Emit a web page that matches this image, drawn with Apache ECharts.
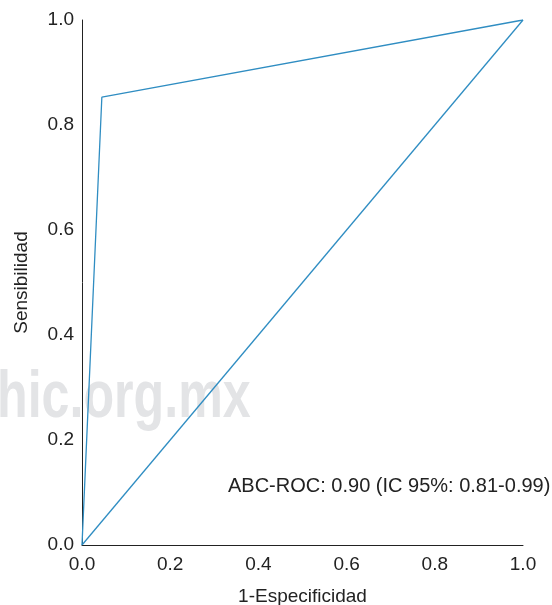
<!DOCTYPE html>
<html><head><meta charset="utf-8">
<script src="https://cdn.jsdelivr.net/npm/echarts@6/dist/echarts.min.js"></script>
<style>html,body{margin:0;padding:0;background:#fff}#c{width:552px;height:605px}</style>
</head><body><div id="c"></div>
<script>
const rocX = [0, 0.045, 1];
const rocY = [0, 0.853, 1];
const refX = [0, 1];
const refY = [0, 1];
const tickLabels = ['0.0','0.2','0.4','0.6','0.8','1.0'];
const annotation = 'ABC-ROC: 0.90 (IC 95%: 0.81-0.99)';
const watermark = 'hic.org.mx';

const chart = echarts.init(document.getElementById('c'));
const font = '"Liberation Sans", Arial, Helvetica, sans-serif';
const lineColor = '#2f8dc2';
chart.setOption({
  animation: false,
  grid: {left: 82, top: 20, right: 29, bottom: 60, containLabel: false, outerBoundsMode: 'none'},
  graphic: [
    {type: 'text', x: -3, y: 366, scaleX: 0.76, z: -10, silent: true,
     style: {text: watermark, font: 'bold 66px ' + font, fill: '#e3e4e6'}},
    {type: 'text', left: 228, top: 476, z: 10,
     style: {text: annotation, font: '20px ' + font, fill: '#222'}}
  ],
  xAxis: {
    type: 'value', min: 0, max: 1, interval: 0.2,
    name: '1-Especificidad', nameLocation: 'middle', nameGap: 42,
    nameTextStyle: {fontFamily: font, fontSize: 19, color: '#222'},
    axisLine: {show: true, lineStyle: {color: '#222', width: 1}},
    axisTick: {show: false}, splitLine: {show: false},
    axisLabel: {fontFamily: font, fontSize: 19, color: '#222', margin: 10,
      formatter: v => tickLabels[Math.round(v*5)]}
  },
  yAxis: {
    type: 'value', min: 0, max: 1, interval: 0.2,
    name: 'Sensibilidad', nameLocation: 'middle', nameGap: 51,
    nameTextStyle: {fontFamily: font, fontSize: 19, color: '#222'},
    axisLine: {show: true, lineStyle: {color: '#222', width: 1}},
    axisTick: {show: false}, splitLine: {show: false},
    axisLabel: {fontFamily: font, fontSize: 19, color: '#222', margin: 8,
      formatter: v => tickLabels[Math.round(v*5)]}
  },
  series: [
    {type: 'line', data: rocX.map((x,i)=>[x, rocY[i]]), symbol: 'none',
     lineStyle: {color: lineColor, width: 1.3}, z: 3},
    {type: 'line', data: refX.map((x,i)=>[x, refY[i]]), symbol: 'none',
     lineStyle: {color: lineColor, width: 1.3}, z: 3}
  ]
});
</script></body></html>
